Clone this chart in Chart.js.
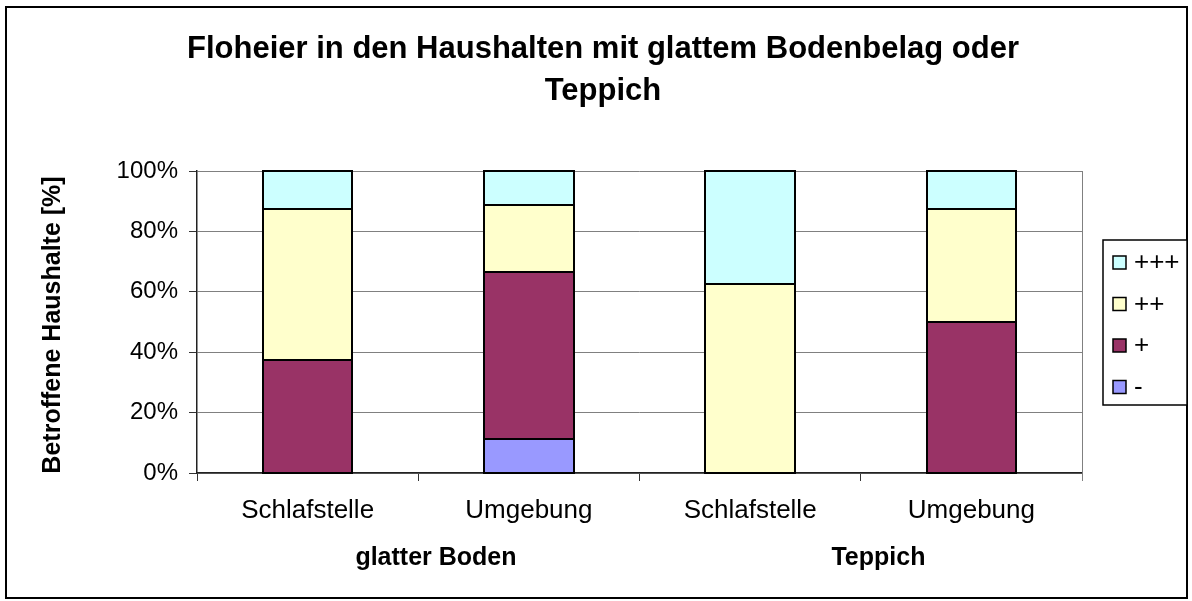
<!DOCTYPE html>
<html>
<head>
<meta charset="utf-8">
<script src="https://cdn.jsdelivr.net/npm/chart.js@4.4.1/dist/chart.umd.min.js"></script>
<style>
  body { margin: 0; background: #fff; }
  #ctx { display: block; }
</style>
</head>
<body>
<canvas id="ctx" width="1192" height="601"></canvas>
<script>
// data
const categories = ["Schlafstelle", "Umgebung", "Schlafstelle", "Umgebung"];
const groups = ["glatter Boden", "Teppich"];
const minus = [0, 11.1, 0, 0];
const plus = [37.5, 55.6, 0, 50];
const plusPlus = [50, 22.2, 62.5, 37.5];
const plusPlusPlus = [12.5, 11.1, 37.5, 12.5];
const yTicks = [0, 20, 40, 60, 80, 100];

const titleLines = ["Floheier in den Haushalten mit glattem Bodenbelag oder", "Teppich"];
const yTitle = "Betroffene Haushalte [%]";

const FONT = "'Liberation Sans', Arial, sans-serif";

function makeSet(label, data, color) {
    return {
        label: label,
        data: data,
        backgroundColor: color,
        borderWidth: 0,
        categoryPercentage: 1,
        barPercentage: 0.405
    };
}

const datasets = [
    makeSet("-", minus, "#9999FF"),
    makeSet("+", plus, "#993366"),
    makeSet("++", plusPlus, "#FFFFCC"),
    makeSet("+++", plusPlusPlus, "#CCFFFF")
];

// titles, group labels, legend, frames
const decor = {
    id: "decor",
    beforeDatasetsDraw(chart) {
        const c = chart.ctx, a = chart.chartArea;
        c.save();
        c.strokeStyle = "#808080";
        c.lineWidth = 1;
        c.beginPath();
        c.moveTo(Math.round(a.right) + 0.5, a.top);
        c.lineTo(Math.round(a.right) + 0.5, a.bottom + 8);
        c.stroke();
        c.restore();
    },
    afterDatasetsDraw(chart) {
        // crisp black outlines round every segment
        const c = chart.ctx;
        c.save();
        c.strokeStyle = "#000";
        c.lineWidth = 2;
        chart.data.datasets.forEach((ds, di) => {
            chart.getDatasetMeta(di).data.forEach((bar) => {
                if (Math.abs(bar.base - bar.y) < 0.5) return;
                const l = Math.round(bar.x - bar.width / 2);
                const r = Math.round(bar.x + bar.width / 2);
                const t = Math.round(Math.min(bar.y, bar.base));
                const b = Math.round(Math.max(bar.y, bar.base));
                c.strokeRect(l, t, r - l, b - t);
            });
        });
        c.restore();
    },
    afterDraw(chart) {
        const c = chart.ctx;
        const xs = chart.scales.x;
        c.save();
        // outer frame
        c.strokeStyle = "#000";
        c.lineWidth = 2;
        c.strokeRect(6, 7, 1181, 591);

        // title
        c.fillStyle = "#000";
        c.textAlign = "center";
        c.textBaseline = "alphabetic";
        c.font = "bold 31px " + FONT;
        c.fillText(titleLines[0], 603, 58);
        c.fillText(titleLines[1], 603, 100);

        // y axis title
        c.save();
        c.translate(60, 325);
        c.rotate(-Math.PI / 2);
        c.font = "bold 25px " + FONT;
        c.fillText(yTitle, 0, 0);
        c.restore();

        // group labels under the categories
        c.font = "bold 25px " + FONT;
        const step = xs.getPixelForValue(1) - xs.getPixelForValue(0);
        groups.forEach((g, i) => {
            const mid = (xs.getPixelForValue(i * 2) + xs.getPixelForValue(i * 2 + 1)) / 2;
            c.fillText(g, mid + step * 0.08, 565);
        });

        // legend
        c.strokeStyle = "#000";
        c.lineWidth = 1.5;
        c.fillStyle = "#fff";
        c.fillRect(1103, 240, 84, 165);
        c.strokeRect(1103, 240, 84, 165);
        c.font = "26px " + FONT;
        c.textAlign = "left";
        c.textBaseline = "middle";
        const order = datasets.slice().reverse();
        order.forEach((ds, i) => {
            const y = 262 + i * 41.5;
            c.fillStyle = ds.backgroundColor;
            c.fillRect(1113, y - 6, 13, 13);
            c.lineWidth = 1.5;
            c.strokeStyle = "#000";
            c.strokeRect(1113, y - 6, 13, 13);
            c.fillStyle = "#000";
            c.fillText(ds.label, 1134, y + 1);
        });
        c.restore();
    }
};

new Chart("ctx", {
    type: "bar",
    data: { labels: categories, datasets: datasets },
    options: {
        responsive: false,
        animation: false,
        events: [],
        layout: { padding: { top: 171, right: 110, left: 0, bottom: 0 } },
        plugins: { legend: { display: false }, tooltip: { enabled: false }, title: { display: false } },
        scales: {
            x: {
                stacked: true,
                afterFit: (s) => { s.height = 128; },
                grid: { display: true, drawOnChartArea: false, offset: true, tickLength: 8, tickColor: "#333", tickWidth: 1 },
                border: { color: "#222", width: 1.5 },
                ticks: { color: "#000", padding: 14, font: { family: FONT, size: 26 }, maxRotation: 0 }
            },
            y: {
                stacked: true,
                min: 0,
                max: 100,
                afterFit: (s) => { s.width = 197; },
                afterBuildTicks: (s) => { s.ticks = yTicks.map(v => ({ value: v })); },
                grid: { color: "#808080", tickColor: "#333", tickLength: 8, lineWidth: 1 },
                border: { color: "#222", width: 1.5 },
                ticks: { color: "#000", padding: 11, font: { family: FONT, size: 24 }, callback: (v) => v + "%" }
            }
        }
    },
    plugins: [decor]
});
</script>
</body>
</html>
